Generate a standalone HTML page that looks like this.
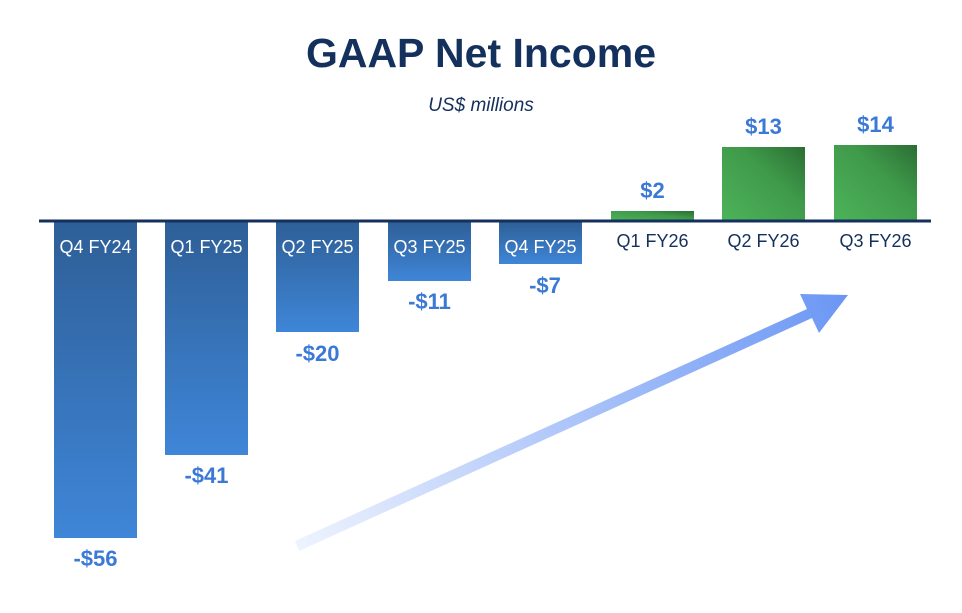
<!DOCTYPE html>
<html><head><style>
body{margin:0;background:#fff;width:962px;height:608px;overflow:hidden;font-family:"Liberation Sans",Arial,sans-serif}
</style></head><body>
<svg width="962" height="608" viewBox="0 0 962 608" xmlns="http://www.w3.org/2000/svg">
<defs>
<linearGradient id="bl" x1="0" y1="0" x2="0" y2="1"><stop offset="0" stop-color="#2e5f97"/><stop offset="1" stop-color="#3f86d8"/></linearGradient>
<linearGradient id="gr" x1="0" y1="1" x2="1" y2="0"><stop offset="0" stop-color="#4db35a"/><stop offset="0.6" stop-color="#3f9a4a"/><stop offset="1" stop-color="#2b6e33"/></linearGradient>
<linearGradient id="ar" x1="297" y1="545" x2="848" y2="295" gradientUnits="userSpaceOnUse"><stop offset="0" stop-color="#eef3fe"/><stop offset="1" stop-color="#6a96f4"/></linearGradient>
</defs>
<text x="481" y="67" text-anchor="middle" font-size="41" font-weight="bold" fill="#14305c">GAAP Net Income</text>
<text x="481" y="111" text-anchor="middle" font-size="19" font-style="italic" fill="#14305c">US$ millions</text>
<rect x="54" y="222" width="83" height="316" fill="url(#bl)"/>
<rect x="165" y="222" width="83" height="233" fill="url(#bl)"/>
<rect x="276" y="222" width="83" height="110" fill="url(#bl)"/>
<rect x="388" y="222" width="83" height="59" fill="url(#bl)"/>
<rect x="499" y="222" width="83" height="42" fill="url(#bl)"/>
<rect x="611" y="211" width="83" height="10" fill="url(#gr)"/>
<rect x="722" y="147" width="83" height="74" fill="url(#gr)"/>
<rect x="834" y="145" width="83" height="76" fill="url(#gr)"/>
<rect x="39" y="219.5" width="892" height="3" fill="#14305c"/>
<g font-size="18" text-anchor="middle" fill="#fff">
<text x="95.5" y="253">Q4 FY24</text><text x="206.5" y="253">Q1 FY25</text><text x="317.5" y="253">Q2 FY25</text><text x="429.5" y="253">Q3 FY25</text><text x="540.5" y="253">Q4 FY25</text>
</g>
<g font-size="18" text-anchor="middle" fill="#14305c">
<text x="652.5" y="247">Q1 FY26</text><text x="763.5" y="247">Q2 FY26</text><text x="875.5" y="247">Q3 FY26</text>
</g>
<g font-size="22" font-weight="bold" text-anchor="middle" fill="#3a79d6">
<text x="95.5" y="566">-$56</text><text x="206.5" y="483">-$41</text><text x="317.5" y="361">-$20</text><text x="429.5" y="309">-$11</text><text x="545" y="293">-$7</text>
<text x="652.5" y="198">$2</text><text x="763.5" y="134">$13</text><text x="875.5" y="132">$14</text>
</g>
<polygon points="295,541 807,309 800,294 848,295 819,333 812,318 299,551" fill="url(#ar)"/>
</svg>
</body></html>
